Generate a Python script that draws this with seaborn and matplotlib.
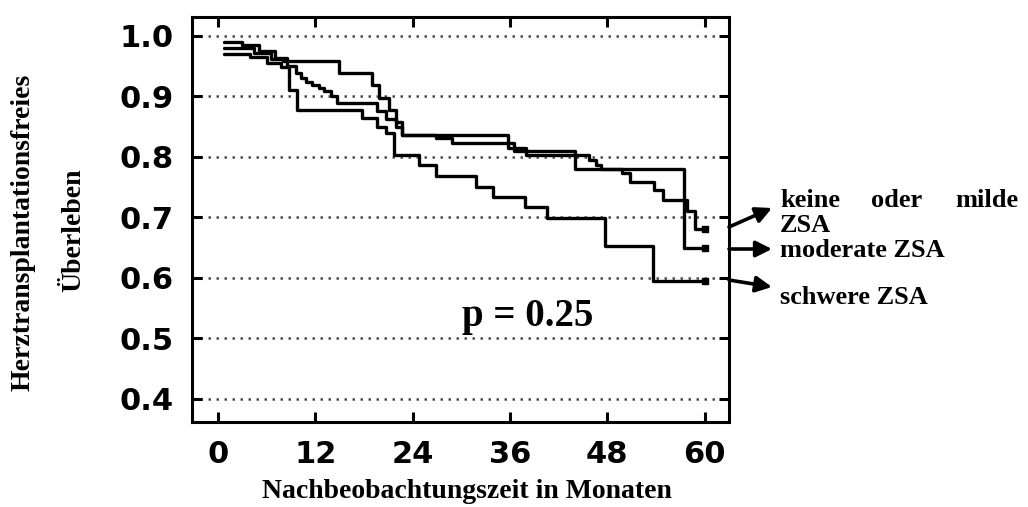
import numpy as np
import pandas as pd
import matplotlib
matplotlib.use("Agg")
import matplotlib.pyplot as plt
import seaborn as sns

# Kaplan-Meier Stufen (Monat, Überleben nach dem Ereignis)
months_mild = [0.7, 3.0, 5.0, 7.0, 8.5, 9.6, 10.2, 10.9, 11.6, 12.5, 13.1, 13.9, 14.7,
               19.6, 20.7, 22.0, 22.7, 26.9, 28.8, 36.5, 38.0, 45.8, 46.6, 47.2,
               49.8, 50.8, 53.8, 54.9, 57.8, 58.8, 60.0]
surv_mild = [0.990, 0.985, 0.975, 0.963, 0.950, 0.938, 0.930, 0.924, 0.919, 0.914, 0.908, 0.900, 0.889,
             0.875, 0.862, 0.850, 0.836, 0.831, 0.823, 0.810, 0.803, 0.795, 0.787, 0.780,
             0.774, 0.759, 0.745, 0.729, 0.710, 0.681, 0.681]

months_mod = [0.7, 4.5, 6.5, 8.0, 14.9, 19.0, 19.9, 21.1, 22.0, 22.7, 35.7, 38.0, 44.0, 57.5, 60.0]
surv_mod = [0.980, 0.972, 0.962, 0.958, 0.938, 0.919, 0.897, 0.878, 0.858, 0.836, 0.815, 0.810,
            0.780, 0.650, 0.650]

months_sev = [0.7, 4.0, 6.0, 7.8, 8.8, 9.8, 17.8, 19.6, 20.7, 21.7, 24.8, 26.9, 31.8, 33.9,
              37.8, 40.6, 47.7, 53.6, 60.0]
surv_sev = [0.970, 0.965, 0.955, 0.948, 0.911, 0.878, 0.864, 0.850, 0.840, 0.803, 0.787, 0.769,
            0.751, 0.734, 0.717, 0.699, 0.653, 0.595, 0.595]

groups = ["keine oder milde ZSA", "moderate ZSA", "schwere ZSA"]
x_ticks = [0, 12, 24, 36, 48, 60]
y_ticks = [0.4, 0.5, 0.6, 0.7, 0.8, 0.9, 1.0]

df = pd.concat([
    pd.DataFrame({"monat": months_mild, "surv": surv_mild, "gruppe": groups[0]}),
    pd.DataFrame({"monat": months_mod, "surv": surv_mod, "gruppe": groups[1]}),
    pd.DataFrame({"monat": months_sev, "surv": surv_sev, "gruppe": groups[2]}),
])

sns.set_style("ticks")
plt.rcParams["font.family"] = ["DejaVu Sans"]
for k in ["text.color", "axes.labelcolor", "xtick.color", "ytick.color", "axes.edgecolor"]:
    plt.rcParams[k] = "black"

W, H = 1028, 507
fig = plt.figure(figsize=(W / 100, H / 100), dpi=100)
ax = fig.add_axes([192 / W, (H - 422) / H, (729 - 192) / W, (422 - 17) / H])

sns.lineplot(data=df, x="monat", y="surv", hue="gruppe", units="gruppe", estimator=None,
             sort=False, palette=["black"] * 3, drawstyle="steps-post", linewidth=2.4,
             legend=False, ax=ax)

# Endmarken der Kurven
ends = df.groupby("gruppe").tail(1)
ax.scatter(ends["monat"], ends["surv"], marker="s", s=18, color="black", zorder=3)

ax.set_xlim(-3.2, 63.0)
ax.set_ylim(0.362, 1.031)
ax.set_xticks(x_ticks)
ax.set_yticks(y_ticks)
ax.set_yticklabels([f"{v:.1f}" for v in y_ticks])
ax.yaxis.grid(True, linestyle=(0, (1, 2.2)), linewidth=1.8, color="0.3")
ax.set_xlabel("")
ax.set_ylabel("")
for s in ax.spines.values():
    s.set_visible(True)
    s.set_linewidth(2.2)
    s.set_color("black")
ax.tick_params(direction="in", length=7, width=2.2, top=True, right=True,
               labelsize=22, colors="black")
ax.tick_params(axis="x", pad=13)
ax.tick_params(axis="y", pad=13)
for lab in ax.get_xticklabels() + ax.get_yticklabels():
    lab.set_fontweight("bold")

serif = ["Liberation Serif", "DejaVu Serif"]

fig.text(467 / W, 1 - 498 / H, "Nachbeobachtungszeit in Monaten", ha="center",
         va="baseline", fontsize=20, fontweight="bold", family=serif)
fig.text(23 / W, 1 - 232 / H, "Herztransplantationsfreies", rotation=90, ha="center",
         va="center", fontsize=20, fontweight="bold", family=serif)
fig.text(74 / W, 1 - 230 / H, "Überleben", rotation=90, ha="center",
         va="center", fontsize=20, fontweight="bold", family=serif)

fig.text(462 / W, 1 - 326 / H, "p = 0.25", ha="left", va="baseline",
         fontsize=28, fontweight="bold", family=serif)

# Pfeile zu den Gruppenbeschriftungen
arrows = [((729, 227), (772, 208)), ((729, 249), (772, 249)), ((729, 280), (772, 287))]
for (x0, y0), (x1, y1) in arrows:
    ax.annotate("", xy=(x1, H - y1), xytext=(x0, H - y0), xycoords="figure pixels",
                textcoords="figure pixels",
                arrowprops=dict(arrowstyle="-|>", color="black", lw=2.6, mutation_scale=24,
                                shrinkA=0, shrinkB=0))

lab_kw = dict(fontsize=19, fontweight="bold", family=serif, va="baseline")
fig.text(780 / W, 1 - 207 / H, "keine", ha="left", **lab_kw)
fig.text(897 / W, 1 - 207 / H, "oder", ha="center", **lab_kw)
fig.text(1018 / W, 1 - 207 / H, "milde", ha="right", **lab_kw)
fig.text(780 / W, 1 - 232 / H, "ZSA", ha="left", **lab_kw)
fig.text(780 / W, 1 - 257 / H, "moderate ZSA", ha="left", **lab_kw)
fig.text(780 / W, 1 - 304 / H, "schwere ZSA", ha="left", **lab_kw)

fig.savefig("out.png", dpi=100)
